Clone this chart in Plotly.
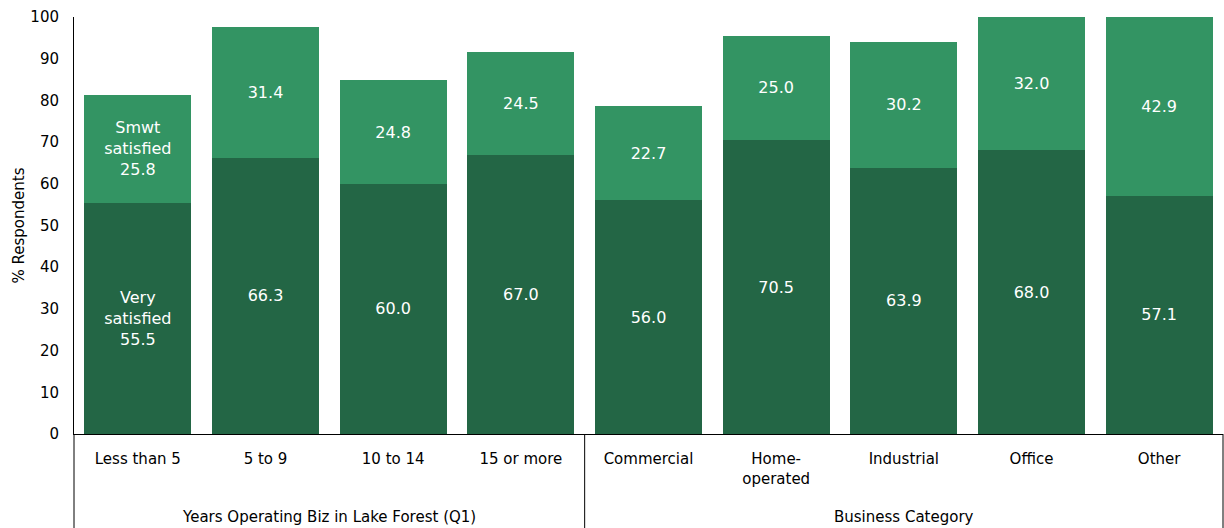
import plotly.graph_objects as go

# Survey satisfaction by years operating and business category
categories = ["Less than 5", "5 to 9", "10 to 14", "15 or more",
              "Commercial", "Home-<br>operated", "Industrial", "Office", "Other"]
very_satisfied = [55.5, 66.3, 60.0, 67.0, 56.0, 70.5, 63.9, 68.0, 57.1]
smwt_satisfied = [25.8, 31.4, 24.8, 24.5, 22.7, 25.0, 30.2, 32.0, 42.9]
groups = ["Years Operating Biz in Lake Forest (Q1)", "Business Category"]
group_sizes = [4, 5]
y_ticks = list(range(0, 101, 10))

DARK = "#236645"
LIGHT = "#339463"
FONT = "DejaVu Sans"

x_idx = list(range(len(categories)))

very_text = [f"{v:.1f}" for v in very_satisfied]
very_text[0] = f"Very<br>satisfied<br>{very_satisfied[0]:.1f}"
smwt_text = [f"{v:.1f}" for v in smwt_satisfied]
smwt_text[0] = f"Smwt<br>satisfied<br>{smwt_satisfied[0]:.1f}"

fig = go.Figure()
fig.add_trace(go.Bar(
    x=x_idx, y=very_satisfied, name="Very satisfied",
    marker=dict(color=DARK, line=dict(width=0)),
    text=very_text, textposition="inside", insidetextanchor="middle",
    textangle=0, textfont=dict(color="white", size=16, family=FONT),
    hoverinfo="skip",
))
fig.add_trace(go.Bar(
    x=x_idx, y=smwt_satisfied, name="Smwt satisfied",
    marker=dict(color=LIGHT, line=dict(width=0)),
    text=smwt_text, textposition="inside", insidetextanchor="middle",
    textangle=0, textfont=dict(color="white", size=16, family=FONT),
    hoverinfo="skip",
))

# Frame lines of the category table under the axis
line = dict(color="black", width=1)
bottom = -0.23
shapes = [
    dict(type="line", xref="paper", yref="paper", x0=0, x1=0, y0=bottom, y1=0, line=line),
    dict(type="line", xref="paper", yref="paper", x0=1, x1=1, y0=bottom, y1=0, line=line),
]
annotations = []
start = 0
for name, size in zip(groups, group_sizes):
    end = start + size
    if end < len(categories):
        shapes.append(dict(type="line", xref="x", yref="paper", x0=end - 0.5, x1=end - 0.5,
                           y0=bottom, y1=0, line=line))
    annotations.append(dict(x=(start + end - 1) / 2, xref="x", y=-0.198, yref="paper",
                            text=name, showarrow=False, yanchor="middle",
                            font=dict(size=15, family=FONT, color="black")))
    start = end

fig.update_layout(
    barmode="stack",
    bargap=0.163,
    width=1224, height=528,
    margin=dict(l=74, r=1, t=17, b=94),
    paper_bgcolor="white", plot_bgcolor="white",
    showlegend=False,
    font=dict(family=FONT, size=15, color="black"),
    shapes=shapes,
    annotations=annotations,
    xaxis=dict(
        tickmode="array", tickvals=x_idx, ticktext=categories,
        range=[-0.5, len(categories) - 0.5],
        showline=True, linecolor="black", linewidth=1,
        showgrid=False, zeroline=False, ticks="",
        ticklabelstandoff=11,
        tickfont=dict(size=15, family=FONT, color="black"),
    ),
    yaxis=dict(
        range=[0, 100], tickvals=y_ticks,
        showline=True, linecolor="black", linewidth=1,
        showgrid=False, zeroline=False, ticks="",
        ticklabelstandoff=11,
        tickfont=dict(size=15, family=FONT, color="black"),
        title=dict(text="% Respondents", standoff=2,
                   font=dict(size=15, family=FONT, color="black")),
    ),
)

fig.write_html("out.html")
